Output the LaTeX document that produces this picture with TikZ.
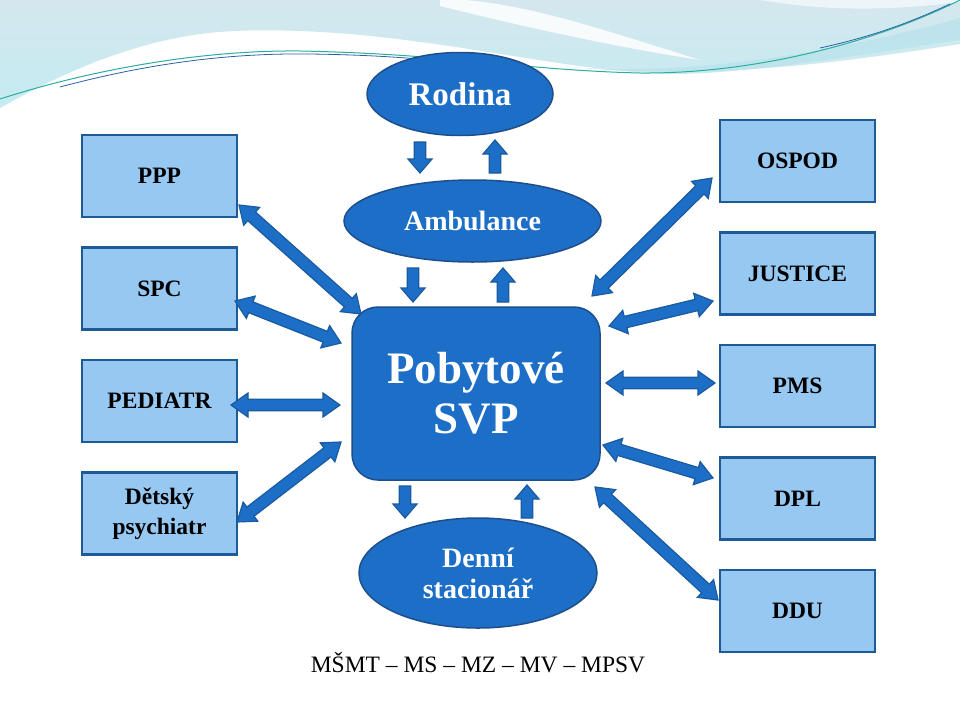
\documentclass[tikz,border=0pt]{standalone}
\usepackage{fontspec}
\setmainfont{Liberation Serif}
\usetikzlibrary{calc,shapes.geometric}
\definecolor{mainblue}{HTML}{1C6EC6}
\definecolor{mainline}{HTML}{1E4F8C}
\definecolor{arrline}{HTML}{1A5A9E}
\definecolor{boxfill}{HTML}{96C8F2}
\definecolor{boxline}{HTML}{1D5A96}
\definecolor{skyA}{HTML}{D5E7EE}
\definecolor{skyB}{HTML}{C4EBF2}
\definecolor{skyC}{HTML}{B8E2EC}
\definecolor{swteal}{HTML}{2BAE9C}
\definecolor{swblue}{HTML}{2A62A8}
\newcommand\arrHL{17pt}
\newcommand\arrHW{12pt}
\newcommand\arrSW{5.8pt}
\newcommand\dblarrow[2]{%
  \filldraw[arrowbody] (#1) -- ($(#1)!\arrHL!(#2)!\arrHW!90:(#2)$) -- ($(#1)!\arrHL!(#2)!\arrSW!90:(#2)$)
   -- ($(#2)!\arrHL!(#1)!\arrSW!-90:(#1)$) -- ($(#2)!\arrHL!(#1)!\arrHW!-90:(#1)$) -- (#2)
   -- ($(#2)!\arrHL!(#1)!\arrHW!90:(#1)$) -- ($(#2)!\arrHL!(#1)!\arrSW!90:(#1)$)
   -- ($(#1)!\arrHL!(#2)!\arrSW!-90:(#2)$) -- ($(#1)!\arrHL!(#2)!\arrHW!-90:(#2)$) -- cycle;}
\newcommand\onearrow[2]{%
  \filldraw[arrowbody] ($(#1)!\arrSW!90:(#2)$) -- ($(#2)!14pt!(#1)!\arrSW!-90:(#1)$) -- ($(#2)!14pt!(#1)!\arrHW!-90:(#1)$) -- (#2)
   -- ($(#2)!14pt!(#1)!\arrHW!90:(#1)$) -- ($(#2)!14pt!(#1)!\arrSW!90:(#1)$) -- ($(#1)!\arrSW!-90:(#2)$) -- cycle;}
\begin{document}
\begin{tikzpicture}[x=1pt,y=-1pt,
  arrowbody/.style={fill=mainblue,draw=arrline,line width=1.2pt,line join=miter},
  sidebox/.style={rectangle,draw=boxline,fill=boxfill,line width=2.5pt,minimum width=155pt,minimum height=82pt,
    inner sep=2pt,align=center,font=\bfseries\fontsize{23.5}{30}\selectfont,text=black},
  ell/.style={ellipse,draw=mainline,fill=mainblue,line width=1.5pt,inner sep=0pt,align=center,text=white,
    font=\bfseries\fontsize{28}{31}\selectfont}]
\useasboundingbox (0,0) rectangle (960,720);
\fill[white] (0,0) rectangle (960,720);
% background swooshes
\shade[top color=skyA,bottom color=skyB] (0,0) -- (960,0) -- (960,40)
  .. controls (860,55) and (760,72) .. (680,74)
  .. controls (600,74) and (500,52) .. (420,42)
  .. controls (350,32) and (260,26) .. (200,34)
  .. controls (120,45) and (50,80) .. (0,108) -- cycle;
\fill[skyC,opacity=0.7] (560,66) .. controls (660,76) and (800,62) .. (960,18) -- (960,44)
  .. controls (820,66) and (700,80) .. (560,66) -- cycle;
\fill[white,opacity=0.85] (465,0) .. controls (535,6) and (610,32) .. (700,60)
  .. controls (620,48) and (520,26) .. (440,6) -- (440,0) -- cycle;
\fill[white,opacity=0.6] (760,0) .. controls (820,10) and (880,12) .. (960,2) -- (960,0) -- cycle;
\draw[swteal,line width=1pt] (0,99) .. controls (90,70) and (200,50) .. (300,51)
  .. controls (450,54) and (520,70) .. (640,73) .. controls (760,74) and (880,40) .. (960,0);
\draw[swblue,line width=0.8pt] (60,87) .. controls (150,63) and (230,53) .. (310,54)
  .. controls (380,55) and (420,59) .. (440,61);
\draw[swblue,line width=0.8pt] (820,48) .. controls (880,35) and (920,18) .. (950,4);
% nodes
\node[sidebox] (ppp) at (159.5,176) {PPP};
\node[sidebox] (spc) at (159.5,288.5) {SPC};
\node[sidebox] (ped) at (159.5,401) {PEDIATR};
\node[sidebox] (dps) at (159.5,513.5) {Dětský\\psychiatr};
\node[sidebox] (ospod) at (797.5,161) {OSPOD};
\node[sidebox] (just) at (797.5,273.5) {JUSTICE};
\node[sidebox] (pms) at (797.5,386) {PMS};
\node[sidebox] (dpl) at (797.5,498.5) {DPL};
\node[sidebox] (ddu) at (797.5,611) {DDU};
\node[rectangle,rounded corners=26pt,draw=mainline,fill=mainblue,line width=1.5pt,minimum width=248pt,minimum height=173pt,
  align=center,text=white,font=\bfseries\fontsize{45}{50}\selectfont] (svp) at (476,393.5) {Pobytové\\SVP};
\node[ell,minimum width=186pt,minimum height=83pt,font=\bfseries\fontsize{33}{36}\selectfont] (rod) at (460,94) {Rodina};
\node[ell,minimum width=257pt,minimum height=82pt] (amb) at (472.5,221) {Ambulance};
\node[ell,minimum width=238pt,minimum height=110pt] (den) at (478,573) {Denní\\stacionář};
\node[font=\fontsize{23.5}{28}\selectfont] (min) at (478,663) {MŠMT – MS – MZ – MV – MPSV};
% arrow end points
\coordinate (l1a) at (239,205); \coordinate (l1b) at (361,314);
\coordinate (l2a) at (235,301); \coordinate (l2b) at (341,343);
\coordinate (l3a) at (231,405); \coordinate (l3b) at (340,405);
\coordinate (l4a) at (237,522); \coordinate (l4b) at (341,442);
\coordinate (r1a) at (712,178); \coordinate (r1b) at (592,296);
\coordinate (r2a) at (609,326); \coordinate (r2b) at (713,301);
\coordinate (r3a) at (606,383); \coordinate (r3b) at (715,383);
\coordinate (r4a) at (603,445); \coordinate (r4b) at (713,478);
\coordinate (r5a) at (595,487); \coordinate (r5b) at (718,600);
\coordinate (v1s) at (420,142); \coordinate (v1e) at (420,173);
\coordinate (v2s) at (495,173); \coordinate (v2e) at (495,140);
\coordinate (v3s) at (413,268); \coordinate (v3e) at (413,302);
\coordinate (v4s) at (503,302); \coordinate (v4e) at (503,268);
\coordinate (v5s) at (405,486); \coordinate (v5e) at (405,518);
\coordinate (v6s) at (527,518); \coordinate (v6e) at (527,485);
% double arrows
\dblarrow{l1a}{l1b}
\dblarrow{l2a}{l2b}
\dblarrow{l3a}{l3b}
\dblarrow{l4a}{l4b}
\dblarrow{r1a}{r1b}
\dblarrow{r2a}{r2b}
\dblarrow{r3a}{r3b}
\dblarrow{r4a}{r4b}
\dblarrow{r5a}{r5b}
% vertical arrows
\onearrow{v1s}{v1e}
\onearrow{v2s}{v2e}
\onearrow{v3s}{v3e}
\onearrow{v4s}{v4e}
\onearrow{v5s}{v5e}
\onearrow{v6s}{v6e}
\end{tikzpicture}
\end{document}
